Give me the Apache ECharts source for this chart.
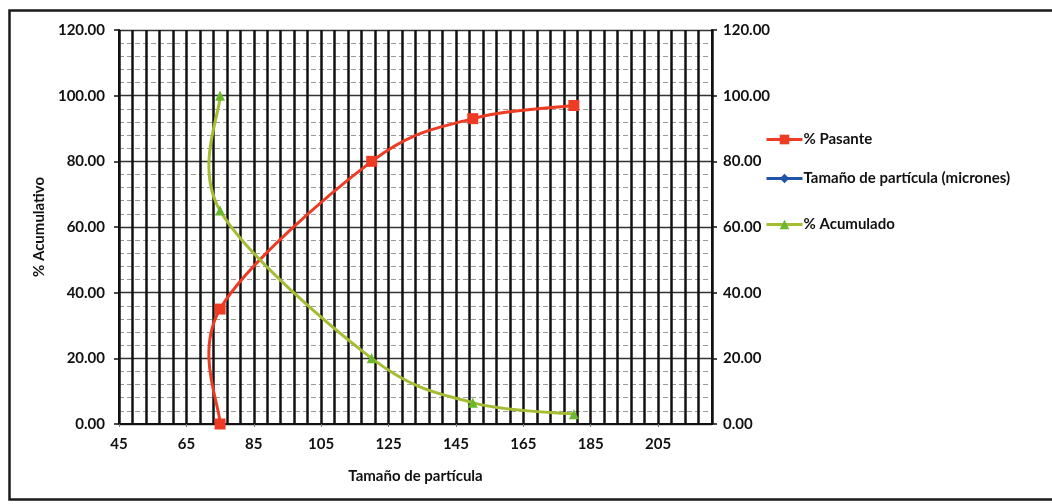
<!DOCTYPE html>
<html>
<head>
<meta charset="utf-8">
<script src="https://cdn.jsdelivr.net/npm/echarts@6/dist/echarts.min.js"></script>
<style>
  html, body { margin: 0; padding: 0; background: #ffffff; }
  #chart { width: 1052px; height: 504px; }
</style>
</head>
<body>
<div id="chart"></div>
<script>
// Particle size (microns) against cumulative percentage
const pasanteX = [75, 75, 120, 150, 180];
const pasanteY = [0, 35, 80, 93, 97];
const acumuladoX = [75, 75, 120, 150, 180];
const acumuladoY = [100, 65, 20, 6.5, 3];
const tamanoX = [];
const tamanoY = [];
const seriesNames = ['% Pasante', 'Tamaño de partícula (micrones)', '% Acumulado'];
const xTitle = 'Tamaño de partícula';
const yTitle = '% Acumulativo';

const FONT = 'Lato';
const RED = '#ee3b24';
const BLUE = '#2254a8';
const OLIVE = '#a4bd32';
const GREEN = '#69b82e';

const pairs = (xs, ys) => xs.map((x, i) => [x, ys[i]]);

const chart = echarts.init(document.getElementById('chart'), null, { renderer: 'canvas' });

const labelStyle = { fontFamily: FONT, fontWeight: 'bold', fontSize: 15, color: '#111' };
const yFmt = v => v.toFixed(2);

// Spreadsheet-style smoothed curve: one cubic Bezier per segment, control
// points taken from the neighbouring points (Catmull-Rom, factor 1/6).
function smoothSegment(xs, ys, color) {
  return function (params, api) {
    const i = params.dataIndex;
    if (i === 0) return null;
    const n = xs.length;
    const pt = k => api.coord([xs[Math.max(0, Math.min(n - 1, k))], ys[Math.max(0, Math.min(n - 1, k))]]);
    const p0 = pt(i - 2), p1 = pt(i - 1), p2 = pt(i), p3 = pt(i + 1);
    return {
      type: 'bezierCurve',
      shape: {
        x1: p1[0], y1: p1[1],
        x2: p2[0], y2: p2[1],
        cpx1: p1[0] + (p2[0] - p0[0]) / 6, cpy1: p1[1] + (p2[1] - p0[1]) / 6,
        cpx2: p2[0] - (p3[0] - p1[0]) / 6, cpy2: p2[1] - (p3[1] - p1[1]) / 6
      },
      style: { stroke: color, lineWidth: 3, fill: null, lineCap: 'round' },
      silent: true
    };
  };
}

const legendBase = {
  orient: 'vertical',
  itemWidth: 36,
  itemHeight: 12,
  itemGap: 0,
  textStyle: { fontFamily: FONT, fontWeight: 'bold', fontSize: 15, color: '#111', padding: [0, 0, 0, -4] },
  left: 760
};

chart.setOption({
  animation: false,
  backgroundColor: '#ffffff',
  graphic: [{
    type: 'rect',
    shape: { x: 9.5, y: 10.5, width: 1100, height: 489 },
    style: { fill: 'none', stroke: '#1a1a1a', lineWidth: 2.5 },
    silent: true,
    z: 100
  }],
  legend: [
    Object.assign({}, legendBase, { top: 127, data: [{ name: seriesNames[0], lineStyle: { opacity: 1, color: RED, width: 3 } }] }),
    Object.assign({}, legendBase, { top: 166, data: [{ name: seriesNames[1], lineStyle: { opacity: 1, color: BLUE, width: 3 } }] }),
    Object.assign({}, legendBase, { top: 212, data: [{ name: seriesNames[2], lineStyle: { opacity: 1, color: OLIVE, width: 3 } }] })
  ],
  grid: { left: 119, right: 340, top: 30, bottom: 80, containLabel: false },
  xAxis: [{
    type: 'value',
    min: 45,
    max: 221,
    interval: 20,
    name: xTitle,
    nameLocation: 'middle',
    nameGap: 45,
    nameTextStyle: labelStyle,
    axisLine: { show: true, lineStyle: { color: '#111', width: 2 } },
    axisTick: { show: true, length: 3, lineStyle: { color: '#777' } },
    axisLabel: Object.assign({ margin: 13, showMaxLabel: false }, labelStyle),
    splitLine: { show: false }
  }, {
    // fine vertical rule every 4 microns
    type: 'value',
    min: 45,
    max: 221,
    interval: 4,
    position: 'bottom',
    axisLine: { show: false },
    axisTick: { show: false },
    axisLabel: { show: false },
    splitLine: { show: true, lineStyle: { color: '#111', width: 2.5 } }
  }],
  yAxis: [{
    type: 'value',
    min: 0,
    max: 120,
    interval: 20,
    name: yTitle,
    nameLocation: 'middle',
    nameGap: 70,
    nameRotate: 90,
    nameTextStyle: labelStyle,
    axisLine: { show: true, lineStyle: { color: '#111', width: 2 } },
    axisTick: { show: true, length: 5, inside: false, lineStyle: { color: '#111', width: 1.5 } },
    axisLabel: Object.assign({ margin: 14, formatter: yFmt }, labelStyle),
    minorTick: { show: false, splitNumber: 5 },
    splitLine: { show: true, lineStyle: { color: '#333', width: 1.3 } },
    minorSplitLine: { show: true, lineStyle: { color: '#9a9a9a', width: 1, type: [5, 3] } }
  }, {
    type: 'value',
    min: 0,
    max: 120,
    interval: 20,
    position: 'right',
    axisLine: { show: true, lineStyle: { color: '#111', width: 2 } },
    axisTick: { show: true, length: 5, lineStyle: { color: '#111', width: 1.5 } },
    axisLabel: Object.assign({ margin: 11, formatter: yFmt }, labelStyle),
    splitLine: { show: false }
  }],
  series: [{
    type: 'custom',
    xAxisIndex: 0, yAxisIndex: 0,
    data: pairs(pasanteX, pasanteY),
    encode: { x: 0, y: 1 },
    renderItem: smoothSegment(pasanteX, pasanteY, RED),
    silent: true,
    z: 5
  }, {
    type: 'custom',
    xAxisIndex: 0, yAxisIndex: 0,
    data: pairs(acumuladoX, acumuladoY),
    encode: { x: 0, y: 1 },
    renderItem: smoothSegment(acumuladoX, acumuladoY, OLIVE),
    silent: true,
    z: 6
  }, {
    name: seriesNames[0],
    type: 'line',
    xAxisIndex: 0, yAxisIndex: 0,
    data: pairs(pasanteX, pasanteY),
    symbol: 'rect',
    symbolSize: 11,
    lineStyle: { color: RED, width: 3, opacity: 0 },
    itemStyle: { color: RED },
    z: 7
  }, {
    name: seriesNames[1],
    type: 'line',
    xAxisIndex: 0, yAxisIndex: 0,
    data: pairs(tamanoX, tamanoY),
    symbol: 'diamond',
    symbolSize: 10,
    lineStyle: { color: BLUE, width: 3 },
    itemStyle: { color: BLUE },
    z: 7
  }, {
    name: seriesNames[2],
    type: 'line',
    xAxisIndex: 0, yAxisIndex: 0,
    data: pairs(acumuladoX, acumuladoY),
    symbol: 'triangle',
    symbolSize: 10,
    lineStyle: { color: OLIVE, width: 3, opacity: 0 },
    itemStyle: { color: GREEN },
    z: 8
  }]
});
</script>
</body>
</html>
